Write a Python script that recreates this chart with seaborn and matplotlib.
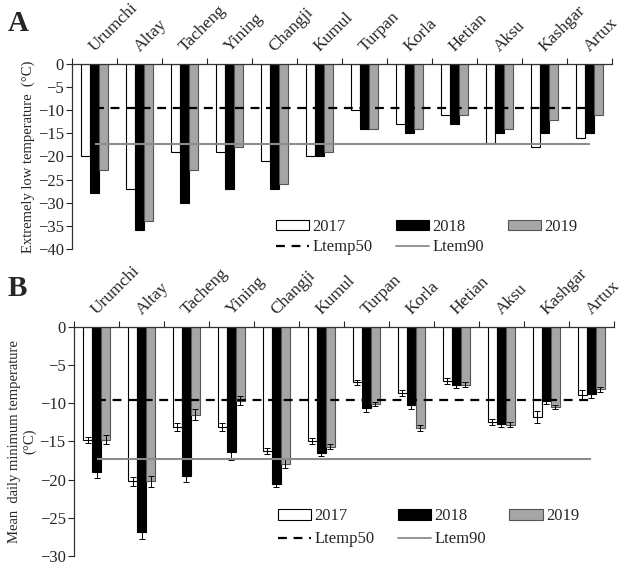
import numpy as np
import pandas as pd
import matplotlib
matplotlib.use('Agg')
import matplotlib.pyplot as plt
import matplotlib.transforms as mtransforms
import seaborn as sns
from matplotlib.lines import Line2D
from matplotlib.patches import Patch

cities = ['Urumchi', 'Altay', 'Tacheng', 'Yining', 'Changji', 'Kumul',
          'Turpan', 'Korla', 'Hetian', 'Aksu', 'Kashgar', 'Artux']
years = ['2017', '2018', '2019']

# panel A: extremely low temperature
low_2017 = [-20, -27, -19, -19, -21, -20, -10, -13, -11, -17, -18, -16]
low_2018 = [-28, -36, -30, -27, -27, -20, -14, -15, -13, -15, -15, -15]
low_2019 = [-23, -34, -23, -18, -26, -19, -14, -14, -11, -14, -12, -11]

# panel B: mean daily minimum temperature with error bars
mean_2017 = [-14.8, -20.2, -13.1, -13.1, -16.2, -15.0, -7.3, -8.7, -7.1, -12.5, -11.8, -8.9]
mean_2018 = [-19.0, -26.9, -19.5, -16.4, -20.5, -16.5, -10.7, -10.3, -7.6, -12.7, -9.7, -8.8]
mean_2019 = [-14.8, -20.2, -11.5, -9.7, -17.9, -15.7, -10.1, -13.3, -7.6, -12.8, -10.5, -8.2]
se_2017 = [0.4, 0.6, 0.5, 0.5, 0.4, 0.4, 0.3, 0.4, 0.4, 0.4, 0.8, 0.6]
se_2018 = [0.8, 0.8, 0.8, 1.0, 0.5, 0.4, 0.4, 0.5, 0.4, 0.4, 0.4, 0.5]
se_2019 = [0.6, 0.7, 0.7, 0.6, 0.6, 0.3, 0.3, 0.4, 0.3, 0.3, 0.3, 0.3]

ltemp50 = -9.6
ltem90 = -17.3

fills = ['white', 'black', '#a6a6a6']
edges = ['black', 'black', '#555555']


def long_df(v17, v18, v19):
    rows = []
    for yr, vals in zip(years, [v17, v18, v19]):
        for c, v in zip(cities, vals):
            rows.append({'city': c, 'year': yr, 'value': v})
    return pd.DataFrame(rows)


sns.set_style('white')
plt.rcParams['font.family'] = ['Liberation Serif', 'DejaVu Serif']
plt.rcParams['axes.edgecolor'] = '#333333'

fig = plt.figure(figsize=(6.22, 5.67), dpi=100)
axA = fig.add_axes([0.116, 0.561, 0.868, 0.326])
axB = fig.add_axes([0.119, 0.019, 0.868, 0.405])


def draw_panel(ax, df, ymin, ylabel, leg_y, leg_sp, errs=None):
    sns.barplot(data=df, x='city', y='value', hue='year', order=cities,
                hue_order=years, palette=fills, width=0.6, saturation=1,
                errorbar=None, linewidth=0.8, legend=False, ax=ax)
    for cont, ec in zip(ax.containers, edges):
        for bar in cont:
            bar.set_edgecolor(ec)
    if errs is not None:
        for cont, e in zip(ax.containers, errs):
            xs = [b.get_x() + b.get_width() / 2 for b in cont]
            ys = [b.get_height() for b in cont]
            ax.errorbar(xs, ys, yerr=e, fmt='none', ecolor='black',
                        elinewidth=0.7, capsize=2.2, capthick=0.7, zorder=4)
    ax.hlines(ltemp50, 0, 11, colors='black', linestyles=(0, (4, 3)), lw=1.6, zorder=5)
    ax.hlines(ltem90, 0, 11, colors='#8c8c8c', lw=1.5, zorder=5)

    ax.set_xlim(-0.5, 11.5)
    ax.set_ylim(ymin, 0)
    ax.set_yticks(np.arange(ymin, 1, 5))
    ax.xaxis.set_ticks_position('top')
    # group boundaries get the ticks, city names are written above the groups
    ax.set_xticks(np.arange(-0.5, 12, 1))
    ax.set_xticklabels([])
    ax.tick_params(axis='x', length=4, width=0.8, top=True, bottom=False,
                   direction='out')
    trans = ax.get_xaxis_transform() + mtransforms.ScaledTranslation(
        0.03, 0.09, fig.dpi_scale_trans)
    for i, c in enumerate(cities):
        ax.text(i, 1, c, transform=trans, rotation=45, ha='left', va='bottom',
                rotation_mode='anchor', fontsize=12.5)
    ax.tick_params(axis='y', left=True, length=4, width=0.8, direction='out',
                   labelsize=12, pad=2)
    ax.set_xlabel('')
    ax.set_ylabel(ylabel, fontsize=10.5, labelpad=2)
    ax.spines['right'].set_visible(False)
    ax.spines['bottom'].set_visible(False)
    for s in ['left', 'top']:
        ax.spines[s].set_linewidth(0.9)

    handles = [Patch(facecolor=fills[0], edgecolor=edges[0], lw=0.8),
               Line2D([], [], color='black', ls=(0, (4, 3)), lw=1.6),
               Patch(facecolor=fills[1], edgecolor=edges[1], lw=0.8),
               Line2D([], [], color='#8c8c8c', lw=1.3),
               Patch(facecolor=fills[2], edgecolor=edges[2], lw=0.8)]
    labels = ['2017', 'Ltemp50', '2018', 'Ltem90', '2019']
    ax.legend(handles, labels, ncol=3, loc='lower right',
              bbox_to_anchor=(0.948, leg_y), frameon=False, fontsize=12,
              handlelength=2.0, handleheight=0.6, handletextpad=0.2,
              columnspacing=1.4, labelspacing=leg_sp, borderaxespad=0)


draw_panel(axA, long_df(low_2017, low_2018, low_2019), -40,
           'Extremely low temperature  (°C)', -0.07, 0.25)
draw_panel(axB, long_df(mean_2017, mean_2018, mean_2019), -30,
           'Mean  daily minimum temperature\n(°C)', 0.01, 0.42,
           errs=[se_2017, se_2018, se_2019])

fig.text(0.012, 0.945, 'A', fontsize=21, fontweight='bold')
fig.text(0.012, 0.478, 'B', fontsize=21, fontweight='bold')

fig.savefig('out.png', dpi=100)
